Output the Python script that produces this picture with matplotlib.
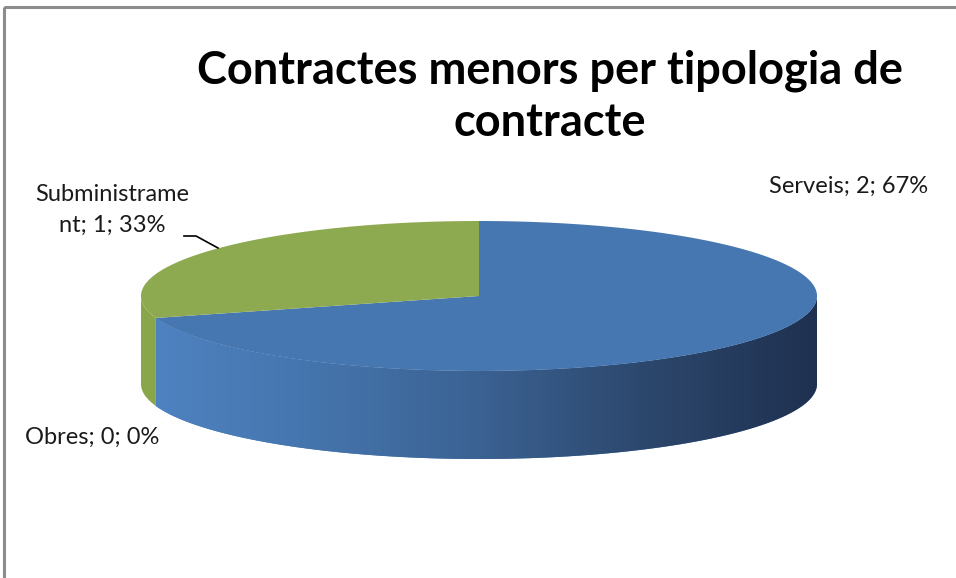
import numpy as np
import matplotlib
matplotlib.use("Agg")
import matplotlib.pyplot as plt
from matplotlib.patches import Polygon, Rectangle
from matplotlib.colors import LinearSegmentedColormap

categories = ["Serveis", "Subministrament", "Obres"]
values = [2, 1, 0]
title = "Contractes menors per tipologia de\ncontracte"

W, H = 956, 578
fig = plt.figure(figsize=(W / 100, H / 100), dpi=100)
ax = fig.add_axes([0, 0, 1, 1])
ax.set_xlim(0, W)
ax.set_ylim(H, 0)
ax.axis("off")

# border
ax.add_patch(Rectangle((4, 7), 1000, 1000, fill=False, ec="#8c8c8c", lw=2.2))

cx, cy, a, b, depth = 479, 296, 338, 75, 88
K = 0.53  # perspective squeeze of angles

def proj(theta_deg):
    t = np.radians(theta_deg)
    return np.degrees(np.arctan2(K * np.sin(t), np.cos(t)))

def pt(theta_deg, dy=0.0, raw=False):
    t = np.radians(theta_deg if raw else proj(theta_deg))
    return cx + a * np.cos(t), cy - b * np.sin(t) + dy

total = sum(values)
start = 90.0
wedges = []
for v in values:
    span = 360.0 * v / total
    wedges.append((start - span, start))  # clockwise from 12 o'clock
    start -= span

top_cols = ["#4677b0", "#8eaa50", "#b74c4a"]
side_cols = ["#4a7cb8", "#8aa64b", "#b04a48"]

# side faces (front only)
for i, ((t0, t1), col, v) in enumerate(zip(wedges, side_cols, values)):
    if v == 0:
        continue
    p0, p1 = proj(t0) % 360, proj(t1) % 360
    if p1 <= p0:
        p1 += 360
    segs = []
    for k in (-360, 0, 360):
        s0, s1 = max(p0 + k, 180), min(p1 + k, 360)
        if s1 > s0:
            segs.append((s0, s1))
    for s0, s1 in segs:
        th = np.linspace(s0, s1, 200)
        upper = [pt(t, raw=True) for t in th]
        lower = [pt(t, depth, raw=True) for t in th[::-1]]
        poly = Polygon(upper + lower, closed=True, fc=col, ec="none", zorder=1)
        ax.add_patch(poly)
        if i == 0:
            cmap = LinearSegmentedColormap.from_list(
                "g", ["#4f83c2", "#4575ad", "#3b6293", "#2c476c", "#1f3150"])
            grad = np.linspace(0, 1, 256)[None, :]
            im = ax.imshow(grad, extent=(cx - a, cx + a, cy + b + depth, cy - b),
                           cmap=cmap, aspect="auto", zorder=2)
            im.set_clip_path(poly)

# top faces
for (t0, t1), col, v in zip(wedges, top_cols, values):
    if v == 0:
        continue
    th = np.linspace(t0, t1, 300)
    pts = [(cx, cy)] + [pt(t) for t in th]
    ax.add_patch(Polygon(pts, closed=True, fc=col, ec="none", zorder=3))

font = "Lato"
ax.text(550, 97, title, ha="center", va="center", fontsize=32.5,
        fontweight="bold", family=font, linespacing=1.28, color="black")

lab = [f"{c}; {v}; {round(100 * v / total)}%" for c, v in zip(categories, values)]
ax.text(849, 186, lab[0], ha="center", va="center", fontsize=17, family=font,
        color="#1a1a1a")
ax.text(112, 210, f"Subministrame\nnt; {values[1]}; {round(100*values[1]/total)}%",
        ha="center", va="center", fontsize=17, family=font, color="#1a1a1a",
        linespacing=1.6)
ax.text(92, 437, lab[2], ha="center", va="center", fontsize=17, family=font,
        color="#1a1a1a")

# leader line
ax.plot([184, 196, 218], [236, 236, 248], color="black", lw=1.2, zorder=4)

fig.savefig("out.png", dpi=100)
